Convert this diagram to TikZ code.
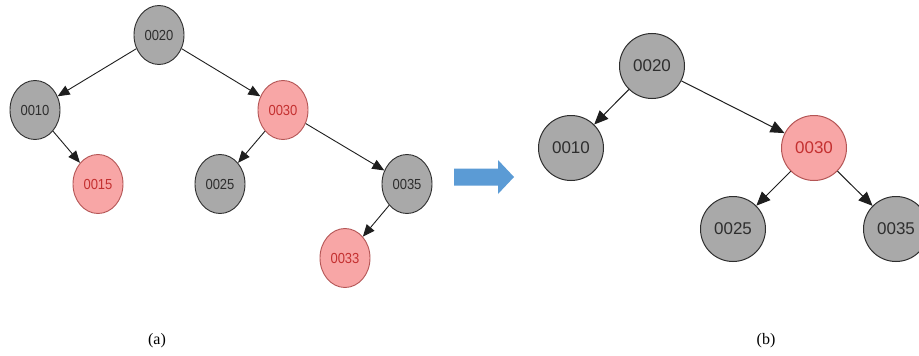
\documentclass[tikz,border=0pt]{standalone}
\usepackage{fontspec}
\setmainfont{Liberation Sans}
\newfontfamily\capfont{Liberation Serif}
\usetikzlibrary{shapes.geometric,arrows.meta}
\definecolor{gfill}{HTML}{A9A9A9}
\definecolor{gline}{HTML}{2E2E2E}
\definecolor{pfill}{HTML}{F8A6A6}
\definecolor{pline}{HTML}{B45555}
\definecolor{ptext}{HTML}{C43030}
\definecolor{bluearr}{HTML}{5B9BD5}
\definecolor{edgecol}{HTML}{1E1E1E}
\newcommand{\tallA}[1]{\scalebox{1}[1.12]{#1}}
\tikzset{
  nodeA/.style={ellipse, draw=gline, fill=gfill, line width=0.9pt, minimum width=50pt, minimum height=59pt, inner sep=0pt, text=gline, font=\fontsize{13}{14}\selectfont},
  rnodeA/.style={nodeA, draw=pline, fill=pfill, text=ptext},
  nodeB/.style={circle, draw=gline, fill=gfill, line width=1pt, minimum size=65pt, inner sep=0pt, text=gline, font=\fontsize{17}{18}\selectfont},
  rnodeB/.style={nodeB, draw=pline, fill=pfill, text=ptext},
  edgeA/.style={draw=edgecol, line width=0.9pt, -{Triangle[length=12pt,width=10pt]}},
  edgeB/.style={draw=edgecol, line width=1pt, -{Triangle[length=14pt,width=12pt]}},
  caption/.style={font=\capfont\fontsize{16}{17}\selectfont, text=black}
}
\begin{document}
\begin{tikzpicture}[x=1pt,y=-1pt]
\clip (0,0) rectangle (919,356);
\fill[white] (0,0) rectangle (919,356);
% tree (a)
\node[nodeA]  (a20) at (159,35)  {\tallA{0020}};
\node[nodeA]  (a10) at (35,110)  {\tallA{0010}};
\node[rnodeA] (a30) at (283,110) {\tallA{0030}};
\node[rnodeA] (a15) at (98,184)  {\tallA{0015}};
\node[nodeA]  (a25) at (220,184) {\tallA{0025}};
\node[nodeA]  (a35) at (407,184) {\tallA{0035}};
\node[rnodeA] (a33) at (345,258) {\tallA{0033}};
\draw[edgeA] (a20) -- (a10);
\draw[edgeA] (a20) -- (a30);
\draw[edgeA] (a10) -- (a15);
\draw[edgeA] (a30) -- (a25);
\draw[edgeA] (a30) -- (a35);
\draw[edgeA] (a35) -- (a33);
% big arrow
\fill[bluearr] (454,168.5) -- (498,168.5) -- (498,160) -- (514,177) -- (498,194) -- (498,185.5) -- (454,185.5) -- cycle;
% tree (b)
\node[nodeB]  (b20) at (652,66)  {0020};
\node[nodeB]  (b10) at (571,148) {0010};
\node[rnodeB] (b30) at (814,148) {0030};
\node[nodeB]  (b25) at (733,229) {0025};
\node[nodeB]  (b35) at (896,229) {0035};
\draw[edgeB] (b20) -- (b10);
\draw[edgeB] (b20) -- (b30);
\draw[edgeB] (b30) -- (b25);
\draw[edgeB] (b30) -- (b35);
% captions
\node[caption] (capa) at (157,341) {(a)};
\node[caption] (capb) at (766,341) {(b)};
\end{tikzpicture}
\end{document}
